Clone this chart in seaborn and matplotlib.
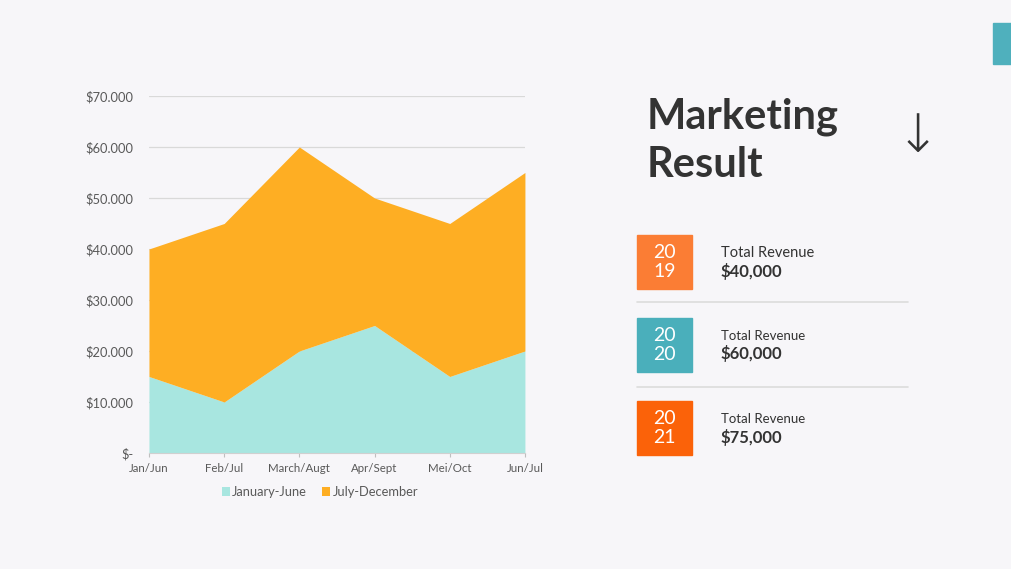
import matplotlib
matplotlib.use("Agg")
import matplotlib.pyplot as plt
import seaborn as sns
import pandas as pd
from matplotlib.patches import Rectangle

# ---- data ----
categories = ["Jan/Jun", "Feb/Jul", "March/Augt", "Apr/Sept", "Mei/Oct", "Jun/Jul"]
jan_june = [15000, 10000, 20000, 25000, 15000, 20000]
jul_dec = [25000, 35000, 40000, 25000, 30000, 35000]
series_names = ["January-June", "July-December"]
y_ticks = [0, 10000, 20000, 30000, 40000, 50000, 60000, 70000]
y_tick_labels = ["$-", "$10.000", "$20.000", "$30.000", "$40.000", "$50.000", "$60.000", "$70.000"]
years = ["20\n19", "20\n20", "20\n21"]
revenues = ["$40,000", "$60,000", "$75,000"]

BG = "#f7f6f9"
C_TEAL = "#a8e6e0"
C_ORANGE = "#feae23"
BOX_COLORS = ["#fb7d34", "#4aafbb", "#fb6209"]
TXT = "#333333"

sns.set_theme(style="white")
plt.rcParams["font.family"] = ["Lato", "DejaVu Sans"]

df = pd.DataFrame({"cat": categories, series_names[0]: jan_june, series_names[1]: jul_dec})

fig = plt.figure(figsize=(10.12, 5.69), dpi=100)
fig.patch.set_facecolor(BG)
ax = fig.add_axes([0.1472, 0.2039, 0.3715, 0.6274])
ax.set_facecolor(BG)

x = list(range(len(categories)))
ax.stackplot(x, df[series_names[0]], df[series_names[1]],
             colors=[C_TEAL, C_ORANGE], labels=series_names, zorder=2, linewidth=0)
top = [a + b for a, b in zip(jan_june, jul_dec)]
sns.lineplot(x=x, y=top, ax=ax, color=C_ORANGE, linewidth=0, legend=False)

ax.set_xlim(0, len(categories) - 1)
ax.set_ylim(0, 70000)
ax.set_yticks(y_ticks)
ax.set_yticklabels(y_tick_labels)
ax.set_xticks(x)
ax.set_xticklabels(categories)
ax.tick_params(axis="y", length=0, pad=11, labelsize=9.3, labelcolor="#595959")
ax.tick_params(axis="x", length=3, width=0.8, color="#bfbfbf", pad=4, labelsize=8.3, labelcolor="#595959", direction="out", bottom=True)
ax.yaxis.grid(True, color="#d9d9d9", linewidth=0.9, zorder=0)
ax.xaxis.grid(False)
ax.set_axisbelow(True)
for s in ["top", "right", "left"]:
    ax.spines[s].set_visible(False)
ax.spines["bottom"].set_color("#d0d0d0")
ax.spines["bottom"].set_linewidth(0.8)
ax.set_xlabel("")
ax.set_ylabel("")

leg = ax.legend(loc="upper center", bbox_to_anchor=(0.455, -0.06), ncol=2, frameon=False,
                fontsize=9.3, handlelength=0.6, handleheight=0.6, handletextpad=0.2,
                columnspacing=1.2, labelcolor="#595959")

W, H = 1012, 569
def fx(px): return px / W
def fy(py): return 1 - py / H

# top-right teal block
fig.patches.append(Rectangle((fx(993), fy(64)), fx(1012) - fx(993), fy(23) - fy(64),
                             transform=fig.transFigure, color="#4fb0bd", zorder=1))

# title
fig.text(fx(647), fy(117), "Marketing", fontsize=30, color=TXT, va="center", ha="left", fontweight="bold")
fig.text(fx(647), fy(165), "Result", fontsize=30, color=TXT, va="center", ha="left", fontweight="bold")
# arrow
fig.text(fx(918), fy(137), "↓", fontsize=38, color=TXT, va="center", ha="center",
         family=["DejaVu Sans"], fontweight="light")

# year boxes
box_tops = [235, 318, 401]
for i, (yr, rev, col, bt) in enumerate(zip(years, revenues, BOX_COLORS, box_tops)):
    fig.patches.append(Rectangle((fx(637), fy(bt + 54)), fx(692) - fx(637), fy(bt) - fy(bt + 54),
                                 transform=fig.transFigure, color=col, zorder=1))
    fig.text(fx(664.5), fy(bt + 27), yr, fontsize=14, color="white", ha="center", va="center",
             linespacing=1.1, zorder=3)
    fig.text(fx(721), fy(bt + 18), "Total Revenue", fontsize=10.5 if i == 0 else 9.5,
             color=TXT, ha="left", va="center")
    fig.text(fx(721), fy(bt + 36), rev, fontsize=12, color=TXT, ha="left", va="center",
             fontweight="bold")

# separators
for sy in [302, 387]:
    fig.add_artist(plt.Line2D([fx(637), fx(908)], [fy(sy), fy(sy)], transform=fig.transFigure,
                              color="#dcdcdc", linewidth=1.2))

fig.savefig("out.png", dpi=100, facecolor=BG)
